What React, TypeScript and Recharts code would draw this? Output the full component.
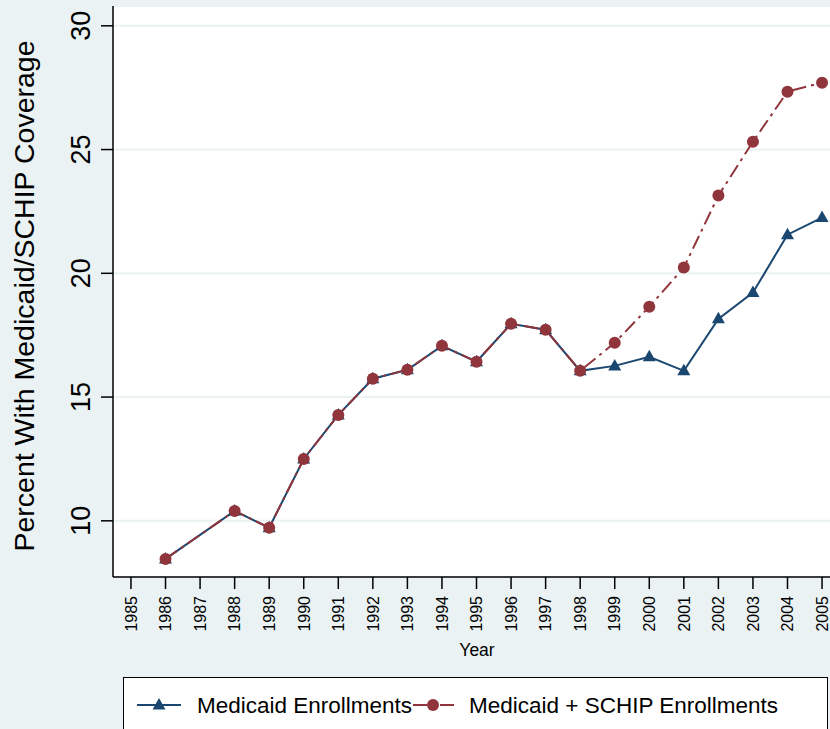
import { CartesianGrid, Label, Line, LineChart, XAxis, YAxis } from "recharts";

const years = [1986, 1988, 1989, 1990, 1991, 1992, 1993, 1994, 1995, 1996, 1997, 1998, 1999, 2000, 2001, 2002, 2003, 2004, 2005];

const medicaid = [8.46, 10.4, 9.72, 12.5, 14.28, 15.74, 16.1, 17.07, 16.43, 17.96, 17.72, 16.06, 16.26, 16.63, 16.06, 18.16, 19.22, 21.56, 22.25];

const medicaidSchip = [8.46, 10.4, 9.72, 12.5, 14.28, 15.74, 16.1, 17.07, 16.43, 17.96, 17.72, 16.06, 17.19, 18.65, 20.23, 23.14, 25.32, 27.34, 27.7];

const yearTicks = [1985, 1986, 1987, 1988, 1989, 1990, 1991, 1992, 1993, 1994, 1995, 1996, 1997, 1998, 1999, 2000, 2001, 2002, 2003, 2004, 2005];
const percentTicks = [10, 15, 20, 25, 30];

const data = years.map((year, i) => ({
  year,
  medicaid: medicaid[i],
  schip: medicaidSchip[i],
}));

const BLUE = "#1a476f";
const RED = "#90353b";
const BG = "#eaf2f3";
const FONT = "'Liberation Sans', Arial, sans-serif";

function Triangle(props: any) {
  const { cx, cy, index } = props;
  if (cx == null || cy == null) return <g key={`t${index}`} />;
  return (
    <path
      key={`t${index}`}
      d={`M${cx},${cy - 7} L${cx + 6.5},${cy + 4.5} L${cx - 6.5},${cy + 4.5} Z`}
      fill={BLUE}
    />
  );
}

function Circle(props: any) {
  const { cx, cy, index } = props;
  if (cx == null || cy == null) return <g key={`c${index}`} />;
  return <circle key={`c${index}`} cx={cx} cy={cy} r={6} fill={RED} />;
}

function YTick(props: any) {
  const { x, y, payload } = props;
  return (
    <g transform={`translate(${x},${y}) rotate(-90)`}>
      <text textAnchor="middle" fontSize={27} fill="#000" fontFamily={FONT}>
        {payload.value}
      </text>
    </g>
  );
}

function XTick(props: any) {
  const { x, y, payload } = props;
  return (
    <g transform={`translate(${x},${y}) rotate(-90)`}>
      <text textAnchor="end" dy="0.36em" fontSize={16} fill="#000" fontFamily={FONT}>
        {payload.value}
      </text>
    </g>
  );
}

export default function App() {
  return (
    <div style={{ position: "absolute", left: 0, top: 0, width: 830, height: 729, background: BG, overflow: "hidden" }}>
      <LineChart width={830} height={729} data={data} margin={{ top: 6, right: 0, bottom: 52, left: 0 }}>
        <CartesianGrid horizontal vertical={false} fill="#ffffff" stroke={BG} strokeWidth={2} />
        <XAxis
          dataKey="year"
          type="number"
          domain={[1984.48, 2005.23]}
          ticks={yearTicks}
          interval={0}
          height={100}
          tick={<XTick />}
          tickSize={12}
          tickMargin={7}
          stroke="#000"
          axisLine={{ stroke: "#000", strokeWidth: 1.5 }}
          tickLine={{ stroke: "#000", strokeWidth: 1.5 }}
        >
          <Label
            content={() => (
              <text x={477} y={656} textAnchor="middle" fontSize={17.5} fontFamily={FONT} fill="#000">
                Year
              </text>
            )}
          />
        </XAxis>
        <YAxis
          type="number"
          domain={[7.73, 30.8]}
          ticks={percentTicks}
          interval={0}
          width={113}
          tick={<YTick />}
          tickSize={12}
          tickMargin={11}
          allowDataOverflow
          axisLine={{ stroke: "#000", strokeWidth: 1.5 }}
          tickLine={{ stroke: "#000", strokeWidth: 1.5 }}
        >
          <Label
            content={() => (
              <text
                transform="translate(34,296) rotate(-90)"
                textAnchor="middle"
                fontSize={28.5}
                fontFamily={FONT}
                fill="#000"
              >
                Percent With Medicaid/SCHIP Coverage
              </text>
            )}
          />
        </YAxis>
        <Line
          dataKey="medicaid"
          stroke={BLUE}
          strokeWidth={2}
          dot={Triangle}
          activeDot={false}
          isAnimationActive={false}
        />
        <Line
          dataKey="schip"
          stroke={RED}
          strokeWidth={2}
          strokeDasharray="14 5 3 5"
          dot={Circle}
          activeDot={false}
          isAnimationActive={false}
        />
      </LineChart>
      <div
        style={{
          position: "absolute",
          left: 123,
          top: 677,
          width: 705,
          height: 70,
          background: "#fff",
          border: "1.5px solid #000",
          boxSizing: "border-box",
        }}
      >
        <svg width={705} height={70} style={{ position: "absolute", left: 0, top: 0 }}>
          <line x1={13} y1={27} x2={57} y2={27} stroke={BLUE} strokeWidth={2} />
          <path d="M35,20 L41.5,31.5 L28.5,31.5 Z" fill={BLUE} />
          <text x={73} y={35} fontSize={22.5} fontFamily={FONT} fill="#000">
            Medicaid Enrollments
          </text>
          <line x1={289} y1={27} x2={333} y2={27} stroke={RED} strokeWidth={2} strokeDasharray="14 5 3 5" />
          <circle cx={309} cy={27} r={6} fill={RED} />
          <text x={345} y={35} fontSize={22.5} fontFamily={FONT} fill="#000">
            Medicaid + SCHIP Enrollments
          </text>
        </svg>
      </div>
    </div>
  );
}
